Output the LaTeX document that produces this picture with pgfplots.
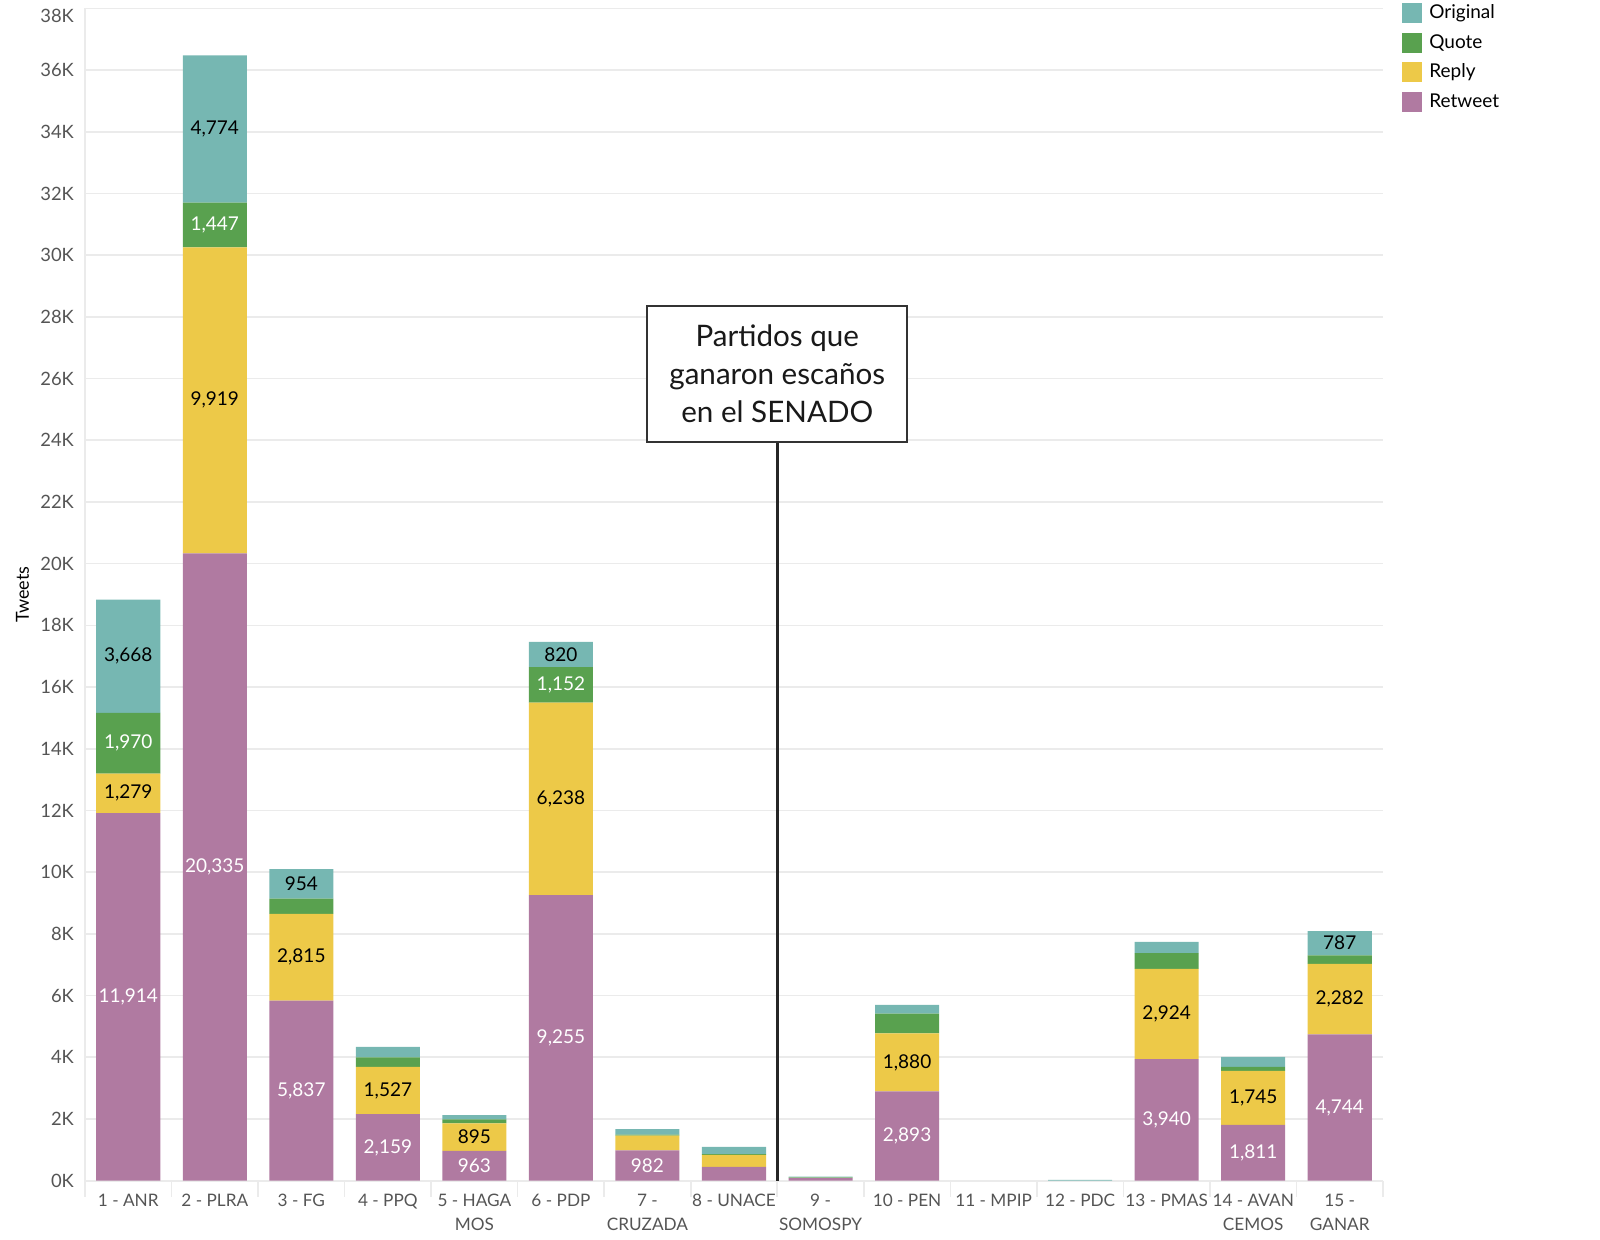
\documentclass[border=0pt]{standalone}
\usepackage{pgfplots}
\usepackage{pgfplotstable}
\pgfplotsset{compat=1.18}
\usepackage{fontspec}
\setmainfont{Lato}
\setsansfont{Lato}
\definecolor{cOrig}{HTML}{76B7B2}
\definecolor{cQuote}{HTML}{59A14F}
\definecolor{cReply}{HTML}{EDC948}
\definecolor{cRT}{HTML}{B07AA1}
\definecolor{gridc}{HTML}{EBEBEB}
\definecolor{txt}{HTML}{555555}

\pgfplotstableread{
x rt rp qt og Lrt Lrp Lqt Log
0 11914 1279 1970 3668 11,914 1,279 1,970 3,668
1 20335 9919 1447 4774 20,335 9,919 1,447 4,774
2 5837 2815 490 954 5,837 2,815 {} 954
3 2159 1527 310 340 2,159 1,527 {} {}
4 963 895 130 140 963 895 {} {}
5 9255 6238 1152 820 9,255 6,238 1,152 820
6 982 480 30 180 982 {} {} {}
7 445 390 30 235 {} {} {} {}
8 80 10 10 30 {} {} {} {}
9 2893 1880 640 290 2,893 1,880 {} {}
10 0 0 0 0 {} {} {} {}
11 0 0 0 30 {} {} {} {}
12 3940 2924 510 365 3,940 2,924 {} {}
13 1811 1745 130 324 1,811 1,745 {} {}
14 4744 2282 280 787 4,744 2,282 {} 787
}\data

\begin{document}
\begin{tikzpicture}
\begin{axis}[
  at={(0,0)}, anchor=south west,
  scale only axis, width=649pt, height=586.2pt,
  ybar stacked, bar width=0.74,
  xmin=-0.5, xmax=14.5, ymin=0, ymax=38000,
  ytick={0,2000,...,36000},
  yticklabels={0K,2K,4K,6K,8K,10K,12K,14K,16K,18K,20K,22K,24K,26K,28K,30K,32K,34K,36K},
  extra y ticks={38000}, extra y tick labels={38K},
  extra y tick style={grid=major, yticklabel style={yshift=-4pt}},
  xtick={0,...,14},
  xticklabels={1 - ANR, 2 - PLRA, 3 - FG, 4 - PPQ, {5 - HAGA\\MOS}, 6 - PDP, {7 -\\CRUZADA}, 8 - UNACE, {9 -\\SOMOSPY}, 10 - PEN, 11 - MPIP, 12 - PDC, 13 - PMAS, {14 - AVAN\\CEMOS}, {15 -\\GANAR}},
  xticklabel style={align=center, font=\fontsize{8.6}{12}\selectfont, text=txt, yshift=-3pt},
  yticklabel style={font=\fontsize{9.2}{11}\selectfont, text=txt, xshift=-2pt},
  /pgf/number format/assume math mode=true,
  major tick length=0pt,
  extra x ticks={-0.5,0.5,...,14.5}, extra x tick labels={},
  extra x tick style={major tick length=8pt, tick align=outside, tick style={draw=gridc, line width=0.8pt}},
  ymajorgrids, grid style={draw=gridc, line width=0.8pt},
  axis lines=left, axis line style={-, draw=gridc, line width=0.8pt},
  ylabel={Tweets},
  ylabel style={at={(axis description cs:-0.0482,0.5)}, anchor=center, font=\fontsize{9}{11}\selectfont, text=black},
  legend style={at={(axis description cs:1.0146,1.007)}, anchor=north west, draw=none, fill=none,
    font=\fontsize{9.5}{11}\selectfont, inner sep=0pt, row sep=2.4pt,
    /tikz/every odd column/.append style={column sep=1.5pt}},
  legend cell align=left,
  reverse legend,
  legend image code/.code={\fill[#1] (0pt,-5pt) rectangle (10pt,5pt);},
  clip=false,
]
\addplot[fill=cRT, draw=none] table[x=x, y=rt]{\data};
\addplot[fill=cReply, draw=none] table[x=x, y=rp]{\data};
\addplot[fill=cQuote, draw=none] table[x=x, y=qt]{\data};
\addplot[fill=cOrig, draw=none] table[x=x, y=og]{\data};
\legend{Retweet, Reply, Quote, Original}
\end{axis}
\begin{axis}[
  at={(0,0)}, anchor=south west,
  scale only axis, width=649pt, height=586.2pt,
  xmin=-0.5, xmax=14.5, ymin=0, ymax=38000,
  hide axis, clip=false,
  nodes near coords, point meta=explicit symbolic,
  nodes near coords style={anchor=center, font=\fontsize{9.5}{11}\selectfont},
]
\addplot[draw=none, mark=none, nodes near coords style={text=white}] table[x=x, y expr=\thisrow{rt}/2, meta=Lrt]{\data};
\addplot[draw=none, mark=none, nodes near coords style={text=black}] table[x=x, y expr=\thisrow{rt}+\thisrow{rp}/2, meta=Lrp]{\data};
\addplot[draw=none, mark=none, nodes near coords style={text=white}] table[x=x, y expr=\thisrow{rt}+\thisrow{rp}+\thisrow{qt}/2, meta=Lqt]{\data};
\addplot[draw=none, mark=none, nodes near coords style={text=black}] table[x=x, y expr=\thisrow{rt}+\thisrow{rp}+\thisrow{qt}+\thisrow{og}/2, meta=Log]{\data};
\draw[line width=1.5pt, color=black!85] (axis cs:7.5,0) -- (axis cs:7.5,23940);
\node[draw=black!80, line width=1.1pt, fill=white, minimum width=130pt, minimum height=68pt, align=center, font=\fontsize{14.8}{18.9}\selectfont, inner sep=0pt, text=black!90] at (axis cs:7.5,26150) {Partidos que\\ganaron escaños\\en el SENADO};
\end{axis}
\pgfresetboundingbox
\path[use as bounding box] (-42.5pt,-29.15pt) rectangle (757.5pt,590.35pt);
\end{tikzpicture}
\end{document}
